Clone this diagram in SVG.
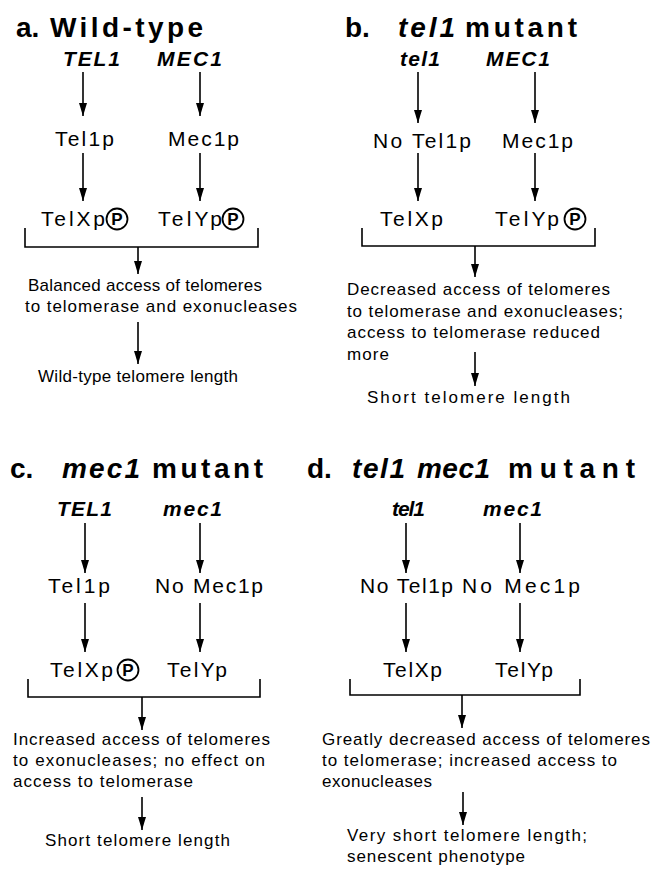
<svg xmlns="http://www.w3.org/2000/svg" width="651" height="869" viewBox="0 0 651 869">
  <style>
    text { font-family: "Liberation Sans", Arial, Helvetica, sans-serif; fill: #000; }
    .title { font-size: 28px; font-weight: bold; }
    .ital { font-style: italic; }
    .gene { font-size: 21px; font-weight: bold; font-style: italic; }
    .prot { font-size: 21px; }
    .desc { font-size: 17px; }
    .pmark { font-size: 17px; font-weight: bold; text-anchor: middle; }
    .ring { fill: none; stroke: #000; stroke-width: 1.8; }
    .conn line, .conn path { stroke: #000; stroke-width: 1.6; fill: none; }
    .conn line { marker-end: url(#head); }
  </style>
  <defs>
    <marker id="head" markerUnits="userSpaceOnUse" markerWidth="14" markerHeight="8" refX="13" refY="4" orient="auto">
      <path d="M0,0 L13,4 L0,8 z" fill="#000"/>
    </marker>
  </defs>
  <rect width="651" height="869" fill="#fff"/>

  <!-- panel a: wild-type -->
  <g id="a-title">
    <text class="title" x="16" y="37">a.</text>
    <text class="title" x="50" y="37" textLength="153" lengthAdjust="spacing">Wild-type</text>
  </g>
  <g id="a-TEL1"><text class="gene" x="63" y="66" textLength="57" lengthAdjust="spacing">TEL1</text></g>
  <g id="a-MEC1"><text class="gene" x="157" y="66" textLength="65" lengthAdjust="spacing">MEC1</text></g>
  <g id="a-Tel1p"><text class="prot" x="55" y="146" textLength="59" lengthAdjust="spacing">Tel1p</text></g>
  <g id="a-Mec1p"><text class="prot" x="168" y="146" textLength="71" lengthAdjust="spacing">Mec1p</text></g>
  <g id="a-TelXp">
    <text class="prot" x="41" y="226" textLength="64" lengthAdjust="spacing">TelXp</text>
    <circle class="ring" cx="117" cy="219" r="10.5"/>
    <text class="pmark" x="117" y="225">P</text>
  </g>
  <g id="a-TelYp">
    <text class="prot" x="158" y="226" textLength="64" lengthAdjust="spacing">TelYp</text>
    <circle class="ring" cx="233" cy="219" r="10.5"/>
    <text class="pmark" x="233" y="225">P</text>
  </g>
  <g id="a-effect">
    <text class="desc" x="28" y="291" textLength="234" lengthAdjust="spacing">Balanced access of telomeres</text>
    <text class="desc" x="25" y="312" textLength="272" lengthAdjust="spacing">to telomerase and exonucleases</text>
  </g>
  <g id="a-result"><text class="desc" x="38" y="382" textLength="200" lengthAdjust="spacing">Wild-type telomere length</text></g>

  <!-- panel b: tel1 mutant -->
  <g id="b-title">
    <text class="title" x="345" y="37">b.</text>
    <text class="title ital" x="398" y="37" textLength="57" lengthAdjust="spacing">tel1</text>
    <text class="title" x="465" y="37" textLength="112" lengthAdjust="spacing">mutant</text>
  </g>
  <g id="b-tel1"><text class="gene" x="400" y="66" textLength="40" lengthAdjust="spacing">tel1</text></g>
  <g id="b-MEC1"><text class="gene" x="486" y="66" textLength="64" lengthAdjust="spacing">MEC1</text></g>
  <g id="b-Tel1p"><text class="prot" x="373" y="148" textLength="98" lengthAdjust="spacing">No Tel1p</text></g>
  <g id="b-Mec1p"><text class="prot" x="502" y="148" textLength="71" lengthAdjust="spacing">Mec1p</text></g>
  <g id="b-TelXp"><text class="prot" x="380" y="226" textLength="63" lengthAdjust="spacing">TelXp</text></g>
  <g id="b-TelYp">
    <text class="prot" x="495" y="226" textLength="64" lengthAdjust="spacing">TelYp</text>
    <circle class="ring" cx="575" cy="219" r="10.5"/>
    <text class="pmark" x="575" y="225">P</text>
  </g>
  <g id="b-effect">
    <text class="desc" x="347" y="295" textLength="263" lengthAdjust="spacing">Decreased access of telomeres</text>
    <text class="desc" x="347" y="317" textLength="276" lengthAdjust="spacing">to telomerase and exonucleases;</text>
    <text class="desc" x="347" y="338" textLength="253" lengthAdjust="spacing">access to telomerase reduced</text>
    <text class="desc" x="347" y="360" textLength="42" lengthAdjust="spacing">more</text>
  </g>
  <g id="b-result"><text class="desc" x="367" y="403" textLength="203" lengthAdjust="spacing">Short telomere length</text></g>

  <!-- panel c: mec1 mutant -->
  <g id="c-title">
    <text class="title" x="10" y="478">c.</text>
    <text class="title ital" x="62" y="478" textLength="78" lengthAdjust="spacing">mec1</text>
    <text class="title" x="152" y="478" textLength="111" lengthAdjust="spacing">mutant</text>
  </g>
  <g id="c-TEL1"><text class="gene" x="57" y="516" textLength="55" lengthAdjust="spacing">TEL1</text></g>
  <g id="c-mec1"><text class="gene" x="163" y="516" textLength="59" lengthAdjust="spacing">mec1</text></g>
  <g id="c-Tel1p"><text class="prot" x="48" y="593" textLength="62" lengthAdjust="spacing">Tel1p</text></g>
  <g id="c-Mec1p"><text class="prot" x="155" y="593" textLength="108" lengthAdjust="spacing">No Mec1p</text></g>
  <g id="c-TelXp">
    <text class="prot" x="50" y="677" textLength="63" lengthAdjust="spacing">TelXp</text>
    <circle class="ring" cx="128" cy="670" r="10.5"/>
    <text class="pmark" x="128" y="676">P</text>
  </g>
  <g id="c-TelYp"><text class="prot" x="167" y="677" textLength="60" lengthAdjust="spacing">TelYp</text></g>
  <g id="c-effect">
    <text class="desc" x="13" y="745" textLength="257" lengthAdjust="spacing">Increased access of telomeres</text>
    <text class="desc" x="13" y="766" textLength="252" lengthAdjust="spacing">to exonucleases; no effect on</text>
    <text class="desc" x="13" y="787" textLength="180" lengthAdjust="spacing">access to telomerase</text>
  </g>
  <g id="c-result"><text class="desc" x="45" y="846" textLength="185" lengthAdjust="spacing">Short telomere length</text></g>

  <!-- panel d: tel1 mec1 double mutant -->
  <g id="d-title">
    <text class="title" x="307" y="478">d.</text>
    <text class="title ital" x="352" y="478" textLength="53" lengthAdjust="spacing">tel1</text>
    <text class="title ital" x="417" y="478" textLength="73" lengthAdjust="spacing">mec1</text>
    <text class="title" x="508" y="478" textLength="127" lengthAdjust="spacing">mutant</text>
  </g>
  <g id="d-tel1"><text class="gene" x="392" y="516" textLength="33" lengthAdjust="spacing">tel1</text></g>
  <g id="d-mec1"><text class="gene" x="483" y="516" textLength="59" lengthAdjust="spacing">mec1</text></g>
  <g id="d-Tel1p"><text class="prot" x="360" y="593" textLength="93" lengthAdjust="spacing">No Tel1p</text></g>
  <g id="d-Mec1p"><text class="prot" x="462" y="593" textLength="118" lengthAdjust="spacing">No Mec1p</text></g>
  <g id="d-TelXp"><text class="prot" x="383" y="677" textLength="59" lengthAdjust="spacing">TelXp</text></g>
  <g id="d-TelYp"><text class="prot" x="495" y="677" textLength="58" lengthAdjust="spacing">TelYp</text></g>
  <g id="d-effect">
    <text class="desc" x="322" y="745" textLength="328" lengthAdjust="spacing">Greatly decreased access of telomeres</text>
    <text class="desc" x="322" y="766" textLength="295" lengthAdjust="spacing">to telomerase; increased access to</text>
    <text class="desc" x="322" y="787" textLength="110" lengthAdjust="spacing">exonucleases</text>
  </g>
  <g id="d-result">
    <text class="desc" x="347" y="841" textLength="240" lengthAdjust="spacing">Very short telomere length;</text>
    <text class="desc" x="347" y="862" textLength="178" lengthAdjust="spacing">senescent phenotype</text>
  </g>

  <!-- connectors -->
  <g id="connectors" class="conn">
    <!-- a -->
    <line x1="83" y1="72" x2="83" y2="116"/>
    <line x1="200" y1="72" x2="200" y2="116"/>
    <line x1="83" y1="153" x2="83" y2="201"/>
    <line x1="200" y1="153" x2="200" y2="201"/>
    <path d="M25,228 V247 H258 V228"/>
    <line x1="138" y1="247" x2="138" y2="274"/>
    <line x1="138" y1="322" x2="138" y2="364"/>
    <!-- b -->
    <line x1="418" y1="72" x2="418" y2="123"/>
    <line x1="535" y1="72" x2="535" y2="123"/>
    <line x1="418" y1="153" x2="418" y2="201"/>
    <line x1="535" y1="153" x2="535" y2="201"/>
    <path d="M362,228 V246 H595 V228"/>
    <line x1="475" y1="246" x2="475" y2="277"/>
    <line x1="475" y1="352" x2="475" y2="386"/>
    <!-- c -->
    <line x1="85" y1="523" x2="85" y2="573"/>
    <line x1="200" y1="523" x2="200" y2="573"/>
    <line x1="85" y1="603" x2="85" y2="652"/>
    <line x1="200" y1="603" x2="200" y2="652"/>
    <path d="M28,679 V697 H260 V679"/>
    <line x1="142" y1="697" x2="142" y2="730"/>
    <line x1="142" y1="797" x2="142" y2="830"/>
    <!-- d -->
    <line x1="406" y1="523" x2="406" y2="573"/>
    <line x1="520" y1="523" x2="520" y2="573"/>
    <line x1="406" y1="603" x2="406" y2="652"/>
    <line x1="520" y1="603" x2="520" y2="652"/>
    <path d="M350,679 V695 H580 V679"/>
    <line x1="462" y1="695" x2="462" y2="728"/>
    <line x1="463" y1="792" x2="463" y2="825"/>
  </g>
</svg>
